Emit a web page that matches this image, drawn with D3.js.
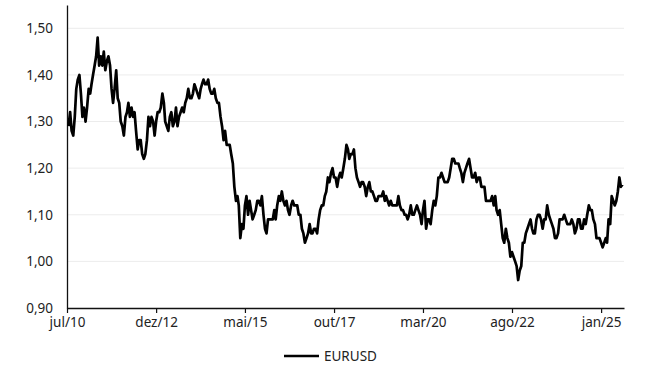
<!DOCTYPE html>
<html>
<head>
<meta charset="utf-8">
<script src="https://cdn.jsdelivr.net/npm/d3@7"></script>
<style>
  body { margin: 0; background: #fff; }
  text { font-family: "Noto Sans", sans-serif; fill: #222; }
</style>
</head>
<body>
<div id="chart"></div>
<script>
// EURUSD, one reading on the 1st and 16th of each month
const v2010 = [1.29, 1.32, 1.28, 1.27, 1.31, 1.37, 1.39, 1.40, 1.36, 1.31, 1.33] // from 16 Jul
const v2011 = [1.30, 1.33, 1.37, 1.36, 1.38, 1.40, 1.42, 1.44, 1.48, 1.42, 1.44, 1.42, 1.45, 1.41, 1.43, 1.44, 1.42, 1.37, 1.34, 1.37, 1.41, 1.35, 1.34, 1.30]
const v2012 = [1.29, 1.27, 1.31, 1.32, 1.34, 1.31, 1.33, 1.31, 1.32, 1.28, 1.24, 1.26, 1.26, 1.23, 1.22, 1.23, 1.26, 1.31, 1.29, 1.31, 1.30, 1.27, 1.30, 1.32]
const v2013 = [1.32, 1.33, 1.36, 1.34, 1.30, 1.29, 1.28, 1.31, 1.32, 1.29, 1.30, 1.33, 1.29, 1.31, 1.32, 1.33, 1.32, 1.34, 1.35, 1.37, 1.35, 1.35, 1.36, 1.38]
const v2014 = [1.37, 1.36, 1.35, 1.37, 1.38, 1.39, 1.38, 1.38, 1.39, 1.37, 1.36, 1.36, 1.37, 1.35, 1.34, 1.34, 1.31, 1.29, 1.26, 1.28, 1.25, 1.25, 1.25, 1.23]
const v2015 = [1.21, 1.16, 1.13, 1.14, 1.12, 1.05, 1.08, 1.07, 1.12, 1.14, 1.10, 1.13, 1.11, 1.09, 1.10, 1.11, 1.13, 1.13, 1.12, 1.14, 1.10, 1.07, 1.06, 1.09]
const v2016 = [1.09, 1.09, 1.09, 1.11, 1.09, 1.12, 1.14, 1.13, 1.15, 1.13, 1.12, 1.13, 1.11, 1.10, 1.12, 1.13, 1.12, 1.12, 1.12, 1.10, 1.10, 1.07, 1.06, 1.04]
const v2017 = [1.05, 1.06, 1.08, 1.06, 1.06, 1.07, 1.07, 1.06, 1.09, 1.11, 1.12, 1.12, 1.14, 1.15, 1.18, 1.17, 1.19, 1.20, 1.18, 1.18, 1.16, 1.18, 1.19, 1.18]
const v2018 = [1.20, 1.22, 1.25, 1.24, 1.22, 1.23, 1.23, 1.24, 1.20, 1.18, 1.17, 1.16, 1.17, 1.17, 1.16, 1.14, 1.16, 1.17, 1.15, 1.15, 1.14, 1.13, 1.13, 1.14]
const v2019 = [1.14, 1.14, 1.15, 1.13, 1.14, 1.13, 1.12, 1.13, 1.12, 1.12, 1.12, 1.12, 1.14, 1.12, 1.11, 1.11, 1.10, 1.10, 1.09, 1.10, 1.12, 1.10, 1.10, 1.11]
const v2020 = [1.12, 1.11, 1.10, 1.08, 1.11, 1.13, 1.07, 1.09, 1.09, 1.08, 1.11, 1.13, 1.12, 1.14, 1.18, 1.18, 1.19, 1.18, 1.17, 1.17, 1.17, 1.18, 1.20, 1.22]
const v2021 = [1.22, 1.21, 1.21, 1.21, 1.20, 1.19, 1.17, 1.19, 1.20, 1.21, 1.22, 1.20, 1.18, 1.18, 1.19, 1.17, 1.18, 1.18, 1.16, 1.16, 1.16, 1.13, 1.13, 1.13]
const v2022 = [1.13, 1.14, 1.12, 1.14, 1.11, 1.10, 1.11, 1.08, 1.05, 1.04, 1.07, 1.05, 1.04, 1.01, 1.02, 1.01, 1.00, 0.99, 0.96, 0.98, 0.99, 1.04, 1.04, 1.06]
const v2023 = [1.07, 1.08, 1.09, 1.07, 1.06, 1.06, 1.09, 1.10, 1.10, 1.09, 1.07, 1.09, 1.09, 1.12, 1.10, 1.09, 1.08, 1.07, 1.05, 1.05, 1.06, 1.09, 1.09, 1.09]
const v2024 = [1.10, 1.09, 1.08, 1.08, 1.08, 1.09, 1.08, 1.06, 1.07, 1.09, 1.09, 1.07, 1.07, 1.09, 1.08, 1.10, 1.12, 1.11, 1.11, 1.09, 1.08, 1.05, 1.05, 1.05]
const v2025 = [1.04, 1.03, 1.04, 1.05, 1.04, 1.09, 1.08, 1.14, 1.13, 1.12, 1.13, 1.15, 1.18, 1.16, 1.165] // to 1 Aug

const years = [[2010, v2010], [2011, v2011], [2012, v2012], [2013, v2013], [2014, v2014], [2015, v2015], [2016, v2016],
  [2017, v2017], [2018, v2018], [2019, v2019], [2020, v2020], [2021, v2021], [2022, v2022], [2023, v2023], [2024, v2024], [2025, v2025]]

const tickDates = ["2010-07-01", "2012-12-01", "2015-05-01", "2017-10-01", "2020-03-01", "2022-08-01", "2025-01-01"]
const tickLabels = ["jul/10", "dez/12", "mai/15", "out/17", "mar/20", "ago/22", "jan/25"]
const yTicks = [0.9, 1.0, 1.1, 1.2, 1.3, 1.4, 1.5]
const seriesName = "EURUSD"

// flatten into {date, value}
const data = []
years.forEach(([yr, vals]) => {
  const first = yr == 2010 ? 13 : 0   // 2010 starts on 16 Jul
  vals.forEach((v, i) => {
    const k = first + i
    data.push({date: new Date(Date.UTC(yr, Math.floor(k / 2), k % 2 ? 16 : 1)), value: v})
  })
})

const width = 650, height = 371
const margin = {top: 5, right: 26, bottom: 63, left: 67}

const x = d3.scaleUtc()
    .domain([new Date(Date.UTC(2010, 6, 1)), new Date(Date.UTC(2025, 7, 16))])
    .range([margin.left, width - margin.right])
const y = d3.scaleLinear()
    .domain([0.9, 1.55])
    .range([height - margin.bottom, margin.top])

const svg = d3.select("#chart").append("svg")
    .attr("width", width)
    .attr("height", height)

// gridlines
svg.append("g")
  .selectAll("line")
  .data(yTicks.slice(1))
  .join("line")
    .attr("x1", margin.left)
    .attr("x2", width - margin.right)
    .attr("y1", d => y(d))
    .attr("y2", d => y(d))
    .attr("stroke", "#ececec")
    .attr("stroke-width", 1)

// y axis
const yAxis = svg.append("g")
    .attr("transform", `translate(${margin.left},0)`)
    .call(d3.axisLeft(y).tickValues(yTicks).tickSize(0).tickPadding(14)
      .tickFormat(d => d3.format(".2f")(d).replace(".", ",")))
yAxis.select(".domain").attr("stroke", "#111").attr("stroke-width", 1.3)
yAxis.selectAll("text").style("font-size", "13.5px").attr("fill", "#222")

// x axis
const xAxis = svg.append("g")
    .attr("transform", `translate(0,${height - margin.bottom})`)
    .call(d3.axisBottom(x)
      .tickValues(tickDates.map(d => new Date(d + "T00:00:00Z")))
      .tickFormat((d, i) => tickLabels[i])
      .tickSize(5).tickSizeOuter(0).tickPadding(4))
xAxis.select(".domain").attr("stroke", "#111").attr("stroke-width", 1.3)
xAxis.selectAll(".tick line").attr("stroke", "#111").attr("stroke-width", 1.2)
xAxis.selectAll("text").style("font-size", "13.5px").attr("fill", "#222")

// series
const line = d3.line()
    .x(d => x(d.date))
    .y(d => y(d.value))

svg.append("path")
    .datum(data)
    .attr("fill", "none")
    .attr("stroke", "#000")
    .attr("stroke-width", 2.7)
    .attr("stroke-linejoin", "round")
    .attr("d", line)

// legend
const legend = svg.append("g").attr("transform", "translate(284,356)")
legend.append("line")
    .attr("x1", 0).attr("x2", 35)
    .attr("stroke", "#000").attr("stroke-width", 2.5)
legend.append("text")
    .attr("x", 40)
    .attr("dy", "0.35em")
    .style("font-size", "13.5px")
    .text(seriesName)
</script>
</body>
</html>
